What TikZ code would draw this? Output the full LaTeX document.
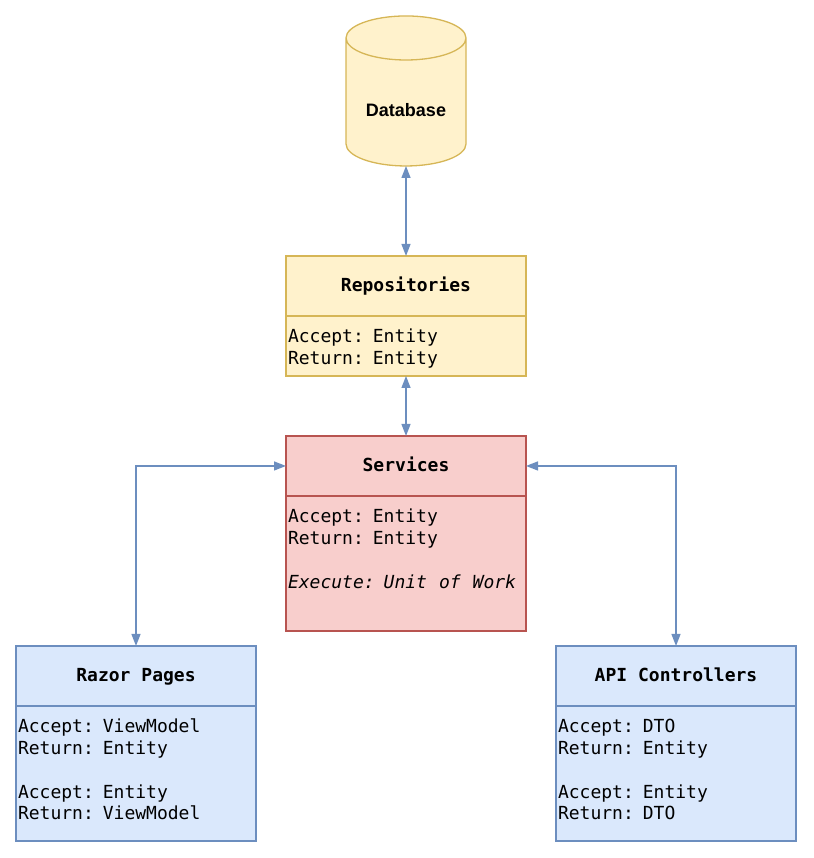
\documentclass[tikz,border=0pt]{standalone}
\usepackage{fontspec}
\setmainfont{Liberation Sans}
\setmonofont{DejaVu Sans Mono}
\usetikzlibrary{arrows.meta,positioning,shapes.geometric}
\definecolor{yellowfill}{HTML}{FFF2CC}
\definecolor{yellowline}{HTML}{D6B656}
\definecolor{redfill}{HTML}{F8CECC}
\definecolor{redline}{HTML}{B85450}
\definecolor{bluefill}{HTML}{DAE8FC}
\definecolor{blueline}{HTML}{6C8EBF}
\tikzstyle{head} = [rectangle, draw, line width=1.3pt, outer sep=0pt, minimum width=240pt, minimum height=60pt, text height=15pt, text depth=3pt, font=\fontsize{18}{22}\selectfont\ttfamily\bfseries]
\tikzstyle{body} = [rectangle, draw, line width=1.3pt, outer sep=0pt, inner xsep=2pt, inner ysep=0pt, text width=236pt, align=left, text height=27pt, text depth=33pt, font=\fontsize{18}{21.75}\selectfont\ttfamily, execute at begin node={\spaceskip=12pt\relax}]
\tikzstyle{tallbody} = [body, text depth=108pt]
\tikzstyle{yellowbox} = [draw=yellowline, fill=yellowfill]
\tikzstyle{redbox} = [draw=redline, fill=redfill]
\tikzstyle{bluebox} = [draw=blueline, fill=bluefill]
\tikzstyle{link} = [blueline, line width=1.3pt, {Triangle[length=12pt,width=9pt]}-{Triangle[length=12pt,width=9pt]}]

\begin{document}
\begin{tikzpicture}[x=1pt, y=1pt, node distance=60pt]
   \path[use as bounding box] (0,0) rectangle (813,-858);

   % nodes
   \node[cylinder, shape border rotate=90, aspect=0.55, yellowbox, line width=1.3pt, outer sep=0pt, inner sep=0pt, minimum width=120pt, minimum height=150pt, font=\fontsize{18}{22}\selectfont\bfseries] (database) at (406,-102.3) {\raisebox{-14pt}[0pt][0pt]{Database}};
   \node[head, yellowbox] (repohead) [below=90pt of database] {Repositories};
   \node[body, yellowbox] (repobody) [below=0pt of repohead] {Accept: Entity\\Return: Entity};
   \node[head, redbox] (servhead) [below=of repobody] {Services};
   \node[tallbody, redbox] (servbody) [below=0pt of servhead] {Accept: Entity\\Return: Entity\\[21.75pt]\textit{Execute: Unit of Work}};
   \node[head, bluebox] (razorhead) [below left=15pt and 30pt of servbody] {Razor Pages};
   \node[tallbody, bluebox] (razorbody) [below=0pt of razorhead] {Accept: ViewModel\\Return: Entity\\[21.75pt]Accept: Entity\\Return: ViewModel};
   \node[head, bluebox] (apihead) [below right=15pt and 30pt of servbody] {API Controllers};
   \node[tallbody, bluebox] (apibody) [below=0pt of apihead] {Accept: DTO\\Return: Entity\\[21.75pt]Accept: Entity\\Return: DTO};

   % edges
   \draw[link] (database.south) -- (repohead.north);
   \draw[link] (repobody.south) -- (servhead.north);
   \draw[link] (servhead.west) -| (razorhead.north);
   \draw[link] (servhead.east) -| (apihead.north);
\end{tikzpicture}
\end{document}
